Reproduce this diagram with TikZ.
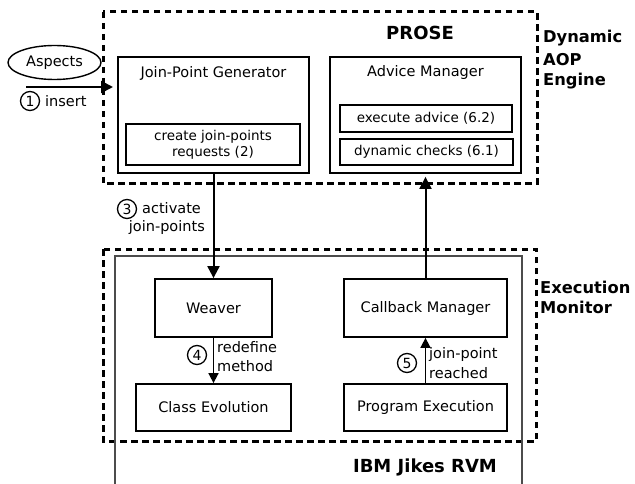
\documentclass[tikz,border=0pt]{standalone}
\usepackage{fontspec}
\setmainfont{DejaVu Sans}
\usetikzlibrary{arrows.meta,shapes.geometric}
\begin{document}
\begin{tikzpicture}[x=1pt,y=-1pt,
  box/.style={draw,line width=1.8pt,rectangle,inner sep=0pt},
  sbox/.style={draw,line width=1.4pt,rectangle,inner sep=0pt,font=\fontsize{13.5}{16}\selectfont,align=center},
  dbox/.style={draw,line width=3pt,dash pattern=on 6.5pt off 4.5pt},
  txt/.style={font=\fontsize{14.5}{18}\selectfont,inner sep=0pt},
  lbl/.style={font=\fontsize{14.5}{19}\selectfont,inner sep=0pt,anchor=west},
  bigb/.style={font=\bfseries\fontsize{18}{22}\selectfont,inner sep=0pt},
  sideb/.style={font=\bfseries\fontsize{16.3}{21.5}\selectfont,inner sep=0pt,anchor=west},
  num/.style={draw,circle,line width=1.3pt,minimum size=19pt,inner sep=0pt,font=\fontsize{14}{14}\selectfont},
  arr/.style={line width=2pt,-{Triangle[length=12pt,width=12pt]}},
  sarr/.style={line width=1.7pt,-{Triangle[length=10pt,width=10pt]}}
]
\useasboundingbox (0,0) rectangle (635,484);
% containers
\draw[dbox] (103,12) rectangle (537,184);
\draw[dbox] (103,249) rectangle (536,441);
\draw[line width=1.5pt,draw=black!70] (115,490) -- (115,256) -- (522,256) -- (522,490);
\node[bigb] (prose) at (420,33) {PROSE};
\node[bigb] (ibm) at (425,467) {IBM Jikes RVM};
\node[sideb] (dyn1) at (543,38) {Dynamic};
\node[sideb] (dyn2) at (543,60) {AOP};
\node[sideb] (dyn3) at (543,81) {Engine};
\node[sideb] (em1) at (540,287) {Execution};
\node[sideb] (em2) at (540,307) {Monitor};
% boxes
\node[box,minimum width=191pt,minimum height=116pt] (jpg) at (213.5,115) {};
\node[txt] (jpgt) at (213.5,73) {Join-Point Generator};
\node[sbox,minimum width=174pt,minimum height=41pt] (create) at (213,144.5) {create join-points\\requests (2)};
\node[box,minimum width=191pt,minimum height=116pt] (am) at (425.5,115) {};
\node[txt] (amt) at (425.5,73) {Advice Manager};
\node[sbox,minimum width=172pt,minimum height=27pt] (exec) at (426,118.5) {execute advice (6.2)};
\node[sbox,minimum width=173pt,minimum height=26pt] (dync) at (426.5,152) {dynamic checks (6.1)};
\node[box,txt,minimum width=117pt,minimum height=58pt] (weaver) at (213.5,308) {Weaver};
\node[box,txt,minimum width=155pt,minimum height=47pt] (classev) at (213.5,407.5) {Class Evolution};
\node[box,txt,minimum width=163pt,minimum height=58pt] (callback) at (425.5,308) {Callback Manager};
\node[box,txt,minimum width=163pt,minimum height=47pt] (progex) at (425.5,407.5) {Program Execution};
\node[draw,ellipse,line width=1.4pt,minimum width=93pt,minimum height=34pt,inner sep=0pt,txt] (aspects) at (54.5,62.5) {Aspects};
% arrows
\coordinate (s1) at (26,87);
\coordinate (e1) at (113,87);
\draw[arr] (s1) -- (e1);
\node[num] (n1) at (30,101) {1};
\node[lbl] (l1) at (45,101) {insert};
\draw[arr] (jpg.south) -- (weaver.north);
\node[num] (n3) at (127,209) {3};
\node[lbl] (l3a) at (142,208) {activate};
\node[txt,anchor=east] (l3b) at (205,228) {join-points};
\draw[sarr] (weaver.south) -- (classev.north);
\node[num] (n4) at (197,355) {4};
\node[lbl] (l4a) at (217,347) {redefine};
\node[lbl] (l4b) at (217,366) {method};
\draw[sarr] (progex.north) -- (callback.south);
\node[num] (n5) at (407,363) {5};
\node[lbl] (l5a) at (429,354) {join-point};
\node[lbl] (l5b) at (429,373) {reached};
\draw[arr,shorten >=3pt] (callback.north) -- (am.south);
\end{tikzpicture}
\end{document}
